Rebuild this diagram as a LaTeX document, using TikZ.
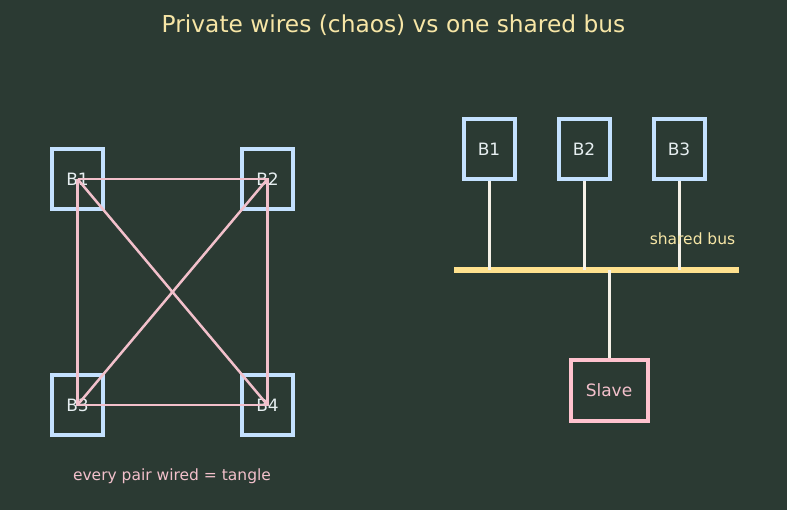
\documentclass[tikz,border=0pt]{standalone}
\usepackage{fontspec}
\setmainfont{DejaVu Sans}
\usepackage{xcolor}
\usetikzlibrary{calc}

\definecolor{bgcol}{HTML}{2B3A33}
\definecolor{titlecol}{HTML}{F7E6A6}
\definecolor{boxblue}{HTML}{C4E1FF}
\definecolor{labelwhite}{HTML}{E6EEF0}
\definecolor{wirepink}{HTML}{F2C0CB}
\definecolor{slavepink}{HTML}{FFC2CE}
\definecolor{buscol}{HTML}{FFE18E}
\definecolor{tapwhite}{HTML}{F6F1E8}

\begin{document}
\begin{tikzpicture}[x=1pt, y=-1pt,
    master/.style={draw=boxblue, line width=4pt, minimum width=51pt, minimum height=60pt,
      text=labelwhite, font=\fontsize{17}{20}\selectfont},
    slavebox/.style={draw=slavepink, line width=4pt, minimum width=77pt, minimum height=61pt,
      text=wirepink, font=\fontsize{17}{20}\selectfont},
    wire/.style={draw=wirepink, line width=2.5pt},
    tap/.style={draw=tapwhite, line width=3pt},
    note/.style={font=\fontsize{15.5}{18}\selectfont}]
        % background
        \fill[bgcol] (0,0) rectangle (787,510);
        \useasboundingbox (0,0) rectangle (787,510);
        \node[text=titlecol, font=\fontsize{23.3}{27}\selectfont] (title) at (393.5,25.5) {Private wires (chaos) vs one shared bus};

        % left: every master wired to every other
        \node[master] (b1) at (77.5,179) {B1};
        \node[master] (b2) at (267.5,179) {B2};
        \node[master] (b3) at (77.5,405) {B3};
        \node[master] (b4) at (267.5,405) {B4};

        \draw[wire] (b1.center) -- (b2.center) -- (b4.center) -- (b3.center) -- (b1.center);
        \draw[wire] (b1.center) -- (b4.center);
        \draw[wire] (b2.center) -- (b3.center);

        \node[note, text=wirepink] (tangle) at (172,476) {every pair wired = tangle};

        % right: one shared bus
        \node[master] (r1) at (489,149) {B1};
        \node[master] (r2) at (584,149) {B2};
        \node[master] (r3) at (679,149) {B3};
        \node[slavebox] (slave) at (609,390.5) {Slave};

        \coordinate (busl) at (454,270);
        \coordinate (busr) at (739,270);
        \draw[buscol, line width=6.5pt] (busl) -- (busr);

        \draw[tap] (r1.south) -- (r1.south |- busl);
        \draw[tap] (r2.south) -- (r2.south |- busl);
        \draw[tap] (r3.south) -- (r3.south |- busl);
        \draw[tap] (slave.north |- busl) -- (slave.north);

        \node[note, text=titlecol] (buslabel) at (692.5,239) {shared bus};
    \end{tikzpicture}
\end{document}
